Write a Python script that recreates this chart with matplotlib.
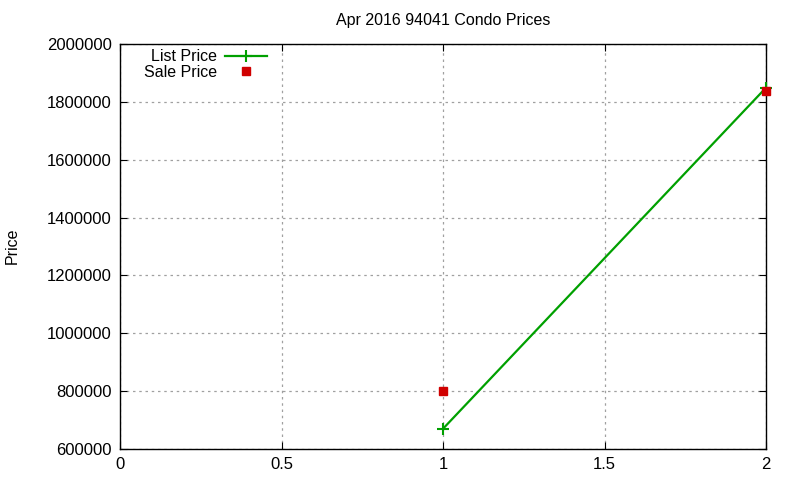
import matplotlib
matplotlib.use("Agg")
import matplotlib.pyplot as plt

plt.rcParams['font.family'] = ['Liberation Sans', 'DejaVu Sans']

# data
x_vals = [1, 2]
list_price = [670000, 1849000]
sale_price = [800000, 1839000]
x_ticks = [0, 0.5, 1, 1.5, 2]
y_ticks = [600000, 800000, 1000000, 1200000, 1400000, 1600000, 1800000, 2000000]

fig = plt.figure(figsize=(8, 4.8), dpi=100)
ax = fig.add_axes([0.15, 0.0646, 0.8075, 0.8437])

ax.plot(x_vals, list_price, color='#00a000', lw=1.6, marker='+', ms=8, mew=1.5,
        label='List Price', clip_on=False, zorder=3)
ax.plot(x_vals, sale_price, color='#d00000', lw=0, marker='s', ms=6,
        label='Sale Price', clip_on=False, zorder=4)

ax.set_xlim(0, 2)
ax.set_ylim(600000, 2000000)
ax.set_xticks(x_ticks)
ax.set_xticklabels(['0', '0.5', '1', '1.5', '2'])
ax.set_yticks(y_ticks)
ax.set_yticklabels([str(v) for v in y_ticks])
ax.tick_params(direction='in', top=True, right=True, length=5, labelsize=12, pad=6, color='black')
ax.grid(True, color='#a0a0a0', linestyle=(0, (2, 3)), linewidth=0.9)
for s in ax.spines.values():
    s.set_linewidth(1.0)

ax.set_title('Apr 2016 94041 Condo Prices', fontsize=11.5, pad=14)
fig.text(0.015, 0.487, 'Price', rotation=90, va='center', ha='center', fontsize=11.5)

leg = ax.legend(loc='upper left', bbox_to_anchor=(13 / 646, 1 + 6 / 405), frameon=False,
                markerfirst=False, fontsize=11.5, handlelength=2.6, handletextpad=0.5,
                labelspacing=0.05, borderaxespad=0.3, numpoints=1)
for t in leg.get_texts():
    t.set_ha('right')

fig.savefig('out.png', dpi=100)
